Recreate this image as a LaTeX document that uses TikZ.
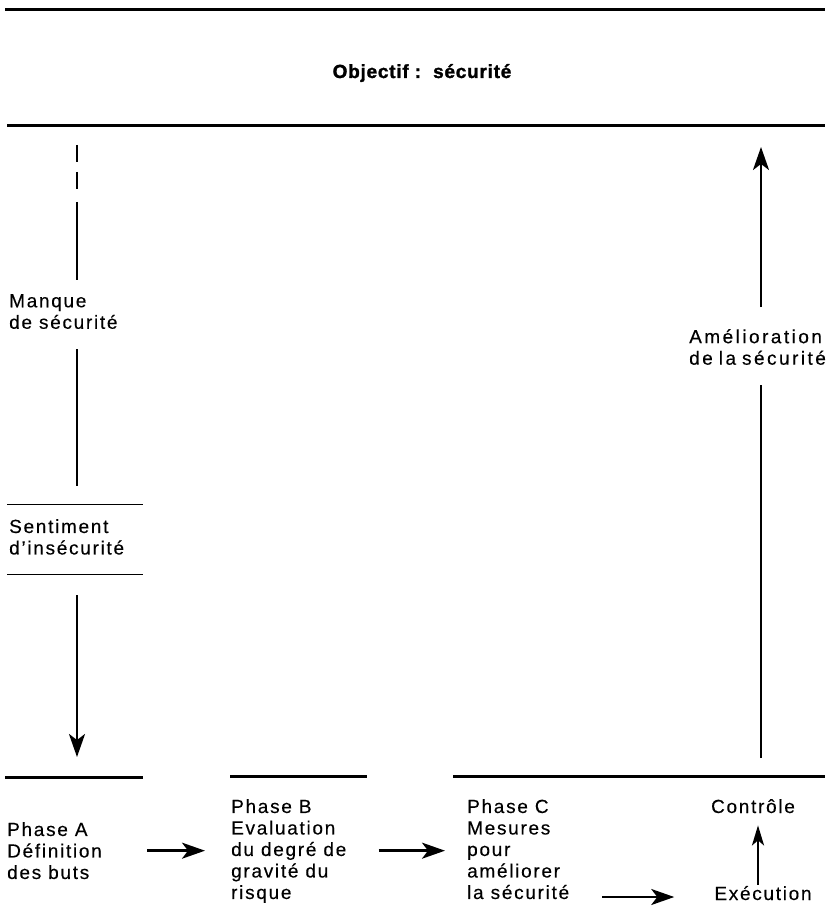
\documentclass[tikz,border=0pt]{standalone}
\usepackage{fontspec}
\setmainfont{Liberation Sans}
\newfontfamily\txtfont{Liberation Sans}[LetterSpace=9, FakeBold=0.3]
\newfontfamily\widefont{Liberation Sans}[LetterSpace=13, FakeBold=0.3]
\newfontfamily\ttlfont{Liberation Sans}[LetterSpace=4, FakeBold=1.5]
\usetikzlibrary{arrows.meta}

\begin{document}
\begin{tikzpicture}[x=1pt,y=-1pt,
  lbl/.style={font=\txtfont\fontsize{19}{21.5}\selectfont, inner sep=0pt, align=left},
  rulethick/.style={line width=3pt},
  rulethin/.style={line width=0.9pt},
  flow/.style={line width=2.5pt},
  arr/.style={flow, -{Stealth[length=23pt,width=16pt,inset=6pt]}},
  arrsmall/.style={flow, -{Stealth[length=20pt,width=12pt,inset=5pt]}},
]
\useasboundingbox (0,0) rectangle (825,909);

% frame of the objective
\draw[rulethick] (5,10) -- (825,10);
\draw[rulethick] (7,126) -- (825,126);
\node[font=\ttlfont\bfseries\fontsize{19}{21.5}\selectfont, inner sep=0pt, anchor=base]
  (title) at (422,78) {Objectif :\ \ sécurité};

% left column
\node[lbl, anchor=north west] (manque) at (9,294) {Manque\\de sécurité};
\node[lbl, anchor=north west] (sentiment) at (9,519) {Sentiment\\d’insécurité};
\coordinate (s1) at (7,504);
\coordinate (s2) at (7,574);
\draw[rulethin] (s1) -- ++(136,0);
\draw[rulethin] (s2) -- ++(136,0);

% right column
\node[lbl, font=\widefont\fontsize{19}{21.5}\selectfont, anchor=north west] (amelio) at (689,329)
  {Amélioration\\de\hspace{6pt}la\hspace{6pt}sécurité};

% phase row
\coordinate (ruleA) at (5,777);
\draw[rulethick] (ruleA) -- (143,777);
\draw[rulethick] (230,776) -- (367,776);
\draw[rulethick] (453,776) -- (825,776);

\node[lbl, anchor=north west] (phaseA) at (7,822) {Phase A\\Définition\\des buts};
\node[lbl, anchor=north west] (phaseB) at (231,799) {Phase B\\Evaluation\\du degré de\\gravité du\\risque};
\node[lbl, anchor=north west] (phaseC) at (467,799) {Phase C\\Mesures\\pour\\améliorer\\la sécurité};
\node[lbl, anchor=base] (controle) at (753,813) {Contrôle};
\node[lbl, anchor=base] (execution) at (763,900) {Exécution};

% left flow: lack of safety down to phase A
\coordinate (ltop) at (77,145);
\draw[flow, shorten >=14pt, dash pattern=on 17pt off 10pt on 17pt off 13pt on 300pt]
  (ltop) -- (ltop |- manque.north);
\draw[flow, shorten <=20pt, shorten >=18pt] (ltop |- manque.south) -- (ltop |- s1);
\draw[arr, shorten <=21pt, shorten >=20pt] (ltop |- s2) -- (ltop |- ruleA);

% right flow: improvement back up to the objective
\coordinate (rbase) at (761,776);
\coordinate (rtop) at (761,126);
\draw[flow, shorten <=18pt, shorten >=20pt] (rbase) -- (rbase |- amelio.south);
\draw[arr, shorten <=22pt, shorten >=21pt] (rbase |- amelio.north) -- (rtop);

% phase sequence
\draw[arr, shorten <=45pt, shorten >=26pt] (phaseA.east) -- (phaseA.east -| phaseB.west);
\draw[arr, shorten <=32pt, shorten >=22pt] (phaseB.east |- phaseA.east) -- (phaseA.east -| phaseC.west);
\draw[arr, shorten <=33pt, shorten >=40pt] ([yshift=3pt]execution.base west -| phaseC.east) -- ([yshift=3pt]execution.base west);
\coordinate (cx) at (758,0);
\draw[arrsmall, shorten <=1pt, shorten >=12pt] (cx |- execution.north) -- (cx |- controle.south);
\end{tikzpicture}
\end{document}
